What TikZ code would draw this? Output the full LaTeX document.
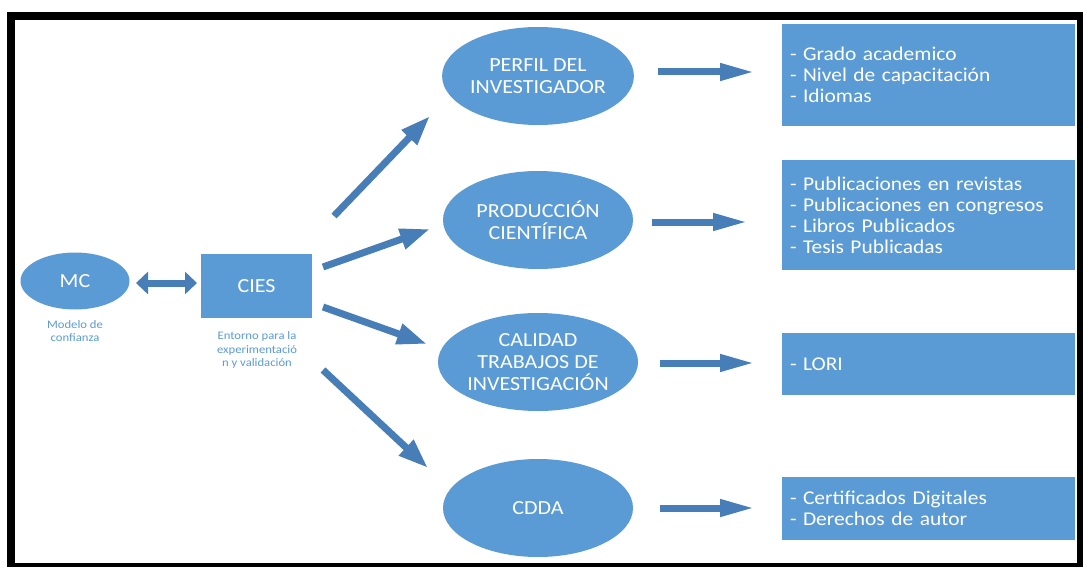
\documentclass[tikz,border=0pt]{standalone}
\usepackage{fontspec}
\setmainfont{Carlito}[FakeStretch=1.1]
\usetikzlibrary{shapes.geometric,arrows.meta}
\definecolor{shapeblue}{RGB}{91,155,213}
\definecolor{arrowblue}{RGB}{72,126,184}
\begin{document}
\begin{tikzpicture}[x=1pt,y=-1pt,
  oval/.style={ellipse, fill=shapeblue, text=white, inner sep=0pt,
    minimum width=190pt, minimum height=98pt, align=center,
    font=\fontsize{20}{22}\selectfont},
  smalloval/.style={ellipse, fill=shapeblue, text=white, inner sep=0pt,
    minimum width=109pt, minimum height=57pt, font=\fontsize{20}{22}\selectfont},
  block/.style={rectangle, fill=shapeblue, text=white, inner sep=0pt,
    minimum width=111pt, minimum height=64pt, font=\fontsize{20}{22}\selectfont},
  listbox/.style={rectangle, fill=shapeblue, text=white, inner xsep=8pt,
    inner ysep=0pt, text width=277pt, align=left,
    font=\fontsize{19.5}{21}\selectfont},
  note/.style={text=shapeblue, align=center, inner sep=0pt,
    font=\fontsize{11.5}{13.5}\selectfont},
  fat/.style={draw=arrowblue, line width=7pt,
    -{Triangle[width=20pt,length=30pt]}},
  sidearrow/.style={draw=arrowblue, line width=7pt,
    -{Triangle[width=16pt,length=35pt]}},
  twoway/.style={draw=arrowblue, line width=7pt,
    {Triangle[width=22pt,length=12pt]}-{Triangle[width=22pt,length=12pt]}},
]
\useasboundingbox (0,0) rectangle (1083,567);
% outer frame
\fill[black] (7,12) rectangle (1083,567);
\fill[white] (15,20) rectangle (1077,563);

% left part
\node[smalloval] (mc) at (75,281) {MC};
\node[note] (mcnote) at (75,331) {Modelo de\\confianza};
\node[block] (cies) at (256.5,286) {CIES};
\node[note] (ciesnote) at (257,350) {Entorno para la\\experimentació\\n y validación};

% dimensions
\node[oval] (perfil) at (538,76) {PERFIL DEL\\INVESTIGADOR};
\node[oval] (prod) at (538,220) {PRODUCCIÓN\\CIENTÍFICA};
\node[oval] (cal) at (538,362) {CALIDAD\\TRABAJOS DE\\INVESTIGACIÓN};
\node[oval] (cdda) at (538,508) {CDDA};

% lists
\node[listbox, minimum height=102pt] (l1) at (928.5,75)
  {- Grado academico\\- Nivel de capacitación\\- Idiomas};
\node[listbox, minimum height=110pt] (l2) at (928.5,215)
  {- Publicaciones en revistas\\- Publicaciones en congresos\\- Libros Publicados\\- Tesis Publicadas};
\node[listbox, minimum height=62pt] (l3) at (928.5,364) {- LORI};
\node[listbox, minimum height=63pt] (l4) at (928.5,508.5)
  {- Certificados Digitales\\- Derechos de autor};

% arrow end points
\coordinate (m1) at (136,283);
\coordinate (m2) at (197,283);
\coordinate (a1s) at (334,216);
\coordinate (a1e) at (430,116);
\coordinate (a2s) at (323,267);
\coordinate (a2e) at (430,229);
\coordinate (a3s) at (323,307);
\coordinate (a3e) at (427,344);
\coordinate (a4s) at (323,370);
\coordinate (a4e) at (428,468);
\coordinate (b1s) at (658,72);
\coordinate (b1e) at (755,72);
\coordinate (b2s) at (652,222);
\coordinate (b2e) at (748,222);
\coordinate (b3s) at (660,363);
\coordinate (b3e) at (755,363);
\coordinate (b4s) at (660,508);
\coordinate (b4e) at (755,508);

% connectors
\draw[twoway] (m1) -- (m2);
\draw[fat] (a1s) -- (a1e);
\draw[fat] (a2s) -- (a2e);
\draw[fat] (a3s) -- (a3e);
\draw[fat] (a4s) -- (a4e);
\draw[sidearrow] (b1s) -- (b1e);
\draw[sidearrow] (b2s) -- (b2e);
\draw[sidearrow] (b3s) -- (b3e);
\draw[sidearrow] (b4s) -- (b4e);
\end{tikzpicture}
\end{document}
